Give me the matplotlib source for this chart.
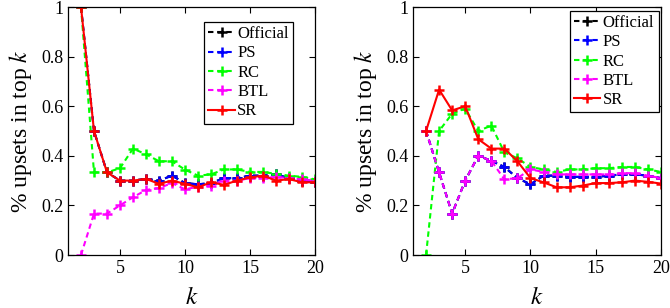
import numpy as np
import matplotlib
matplotlib.use('Agg')
import matplotlib.pyplot as plt
from matplotlib.ticker import FormatStrFormatter

plt.rcParams['font.family'] = ['Liberation Serif', 'DejaVu Serif']
plt.rcParams['mathtext.fontset'] = 'stix'

k = np.arange(2, 21)

# left panel
off_l = [1.0, 0.5, 0.333, 0.30, 0.30, 0.307, 0.30, 0.32, 0.29, 0.285, 0.29, 0.31, 0.31, 0.32, 0.32, 0.325, 0.31, 0.30, 0.295]
ps_l = [1.0, 0.5, 0.333, 0.30, 0.30, 0.307, 0.30, 0.32, 0.29, 0.285, 0.29, 0.31, 0.31, 0.32, 0.32, 0.325, 0.31, 0.30, 0.295]
rc_l = [1.0, 0.333, 0.333, 0.35, 0.429, 0.406, 0.378, 0.378, 0.344, 0.32, 0.325, 0.345, 0.345, 0.335, 0.335, 0.327, 0.32, 0.315, 0.305]
btl_l = [0.0, 0.167, 0.167, 0.2, 0.233, 0.262, 0.27, 0.29, 0.265, 0.275, 0.28, 0.30, 0.30, 0.31, 0.31, 0.315, 0.31, 0.305, 0.30]
sr_l = [1.0, 0.5, 0.333, 0.30, 0.30, 0.307, 0.287, 0.30, 0.287, 0.273, 0.293, 0.283, 0.30, 0.313, 0.32, 0.30, 0.306, 0.293, 0.293]

# right panel
off_r = [0.5, 0.333, 0.167, 0.3, 0.4, 0.38, 0.355, 0.31, 0.285, 0.32, 0.32, 0.315, 0.315, 0.315, 0.32, 0.325, 0.325, 0.32, 0.31]
ps_r = [0.5, 0.333, 0.167, 0.3, 0.4, 0.38, 0.355, 0.31, 0.285, 0.32, 0.32, 0.315, 0.315, 0.315, 0.32, 0.325, 0.325, 0.32, 0.31]
rc_r = [0.0, 0.5, 0.57, 0.59, 0.5, 0.522, 0.414, 0.39, 0.355, 0.345, 0.335, 0.345, 0.345, 0.35, 0.35, 0.355, 0.355, 0.345, 0.335]
btl_r = [0.5, 0.333, 0.167, 0.3, 0.4, 0.38, 0.305, 0.31, 0.345, 0.335, 0.325, 0.325, 0.325, 0.325, 0.325, 0.33, 0.33, 0.32, 0.31]
sr_r = [0.5, 0.667, 0.583, 0.6, 0.467, 0.429, 0.429, 0.378, 0.31, 0.293, 0.273, 0.273, 0.28, 0.29, 0.29, 0.293, 0.30, 0.295, 0.288]

labels = ['Official', 'PS', 'RC', 'BTL', 'SR']
colors = ['black', 'blue', (0, 1, 0), 'magenta', 'red']
dashed = [True, True, True, True, False]

fig = plt.figure(figsize=(6.7, 3.08), dpi=100)
ax1 = fig.add_axes([68 / 670, 53 / 308, 247 / 670, 248 / 308])
ax2 = fig.add_axes([413 / 670, 53 / 308, 248 / 670, 248 / 308])

panels = [(ax1, [off_l, ps_l, rc_l, btl_l, sr_l], (0.911, 0.94)),
          (ax2, [off_r, ps_r, rc_r, btl_r, sr_r], (0.99, 0.985))]

for ax, series, anchor in panels:
    for vals, lab, c, d in zip(series, labels, colors, dashed):
        line, = ax.plot(k, vals, color=c, lw=1.5, marker='+', ms=6.5, mew=1.8, label=lab)
        if d:
            line.set_dashes((2.6, 1.8))
    ax.set_xlim(1, 20)
    ax.set_ylim(0, 1)
    ax.set_xticks([5, 10, 15, 20])
    ax.set_yticks([0, 0.2, 0.4, 0.6, 0.8, 1])
    ax.yaxis.set_major_formatter(FormatStrFormatter('%g'))
    ax.tick_params(direction='in', top=True, right=True, length=4, labelsize=13, width=0.8)
    ax.set_xlabel('$k$', fontsize=18, labelpad=7)
    ax.set_ylabel('% upsets in top $k$', fontsize=17, labelpad=5)
    for sp in ax.spines.values():
        sp.set_linewidth(0.9)
    leg = ax.legend(loc='upper right', bbox_to_anchor=anchor, fontsize=12,
                    fancybox=False, framealpha=1, edgecolor='black',
                    handlelength=1.6, handletextpad=0.15, labelspacing=0.2,
                    borderpad=0.25, borderaxespad=0)
    leg.get_frame().set_linewidth(0.9)

fig.savefig('out.png', dpi=100)
